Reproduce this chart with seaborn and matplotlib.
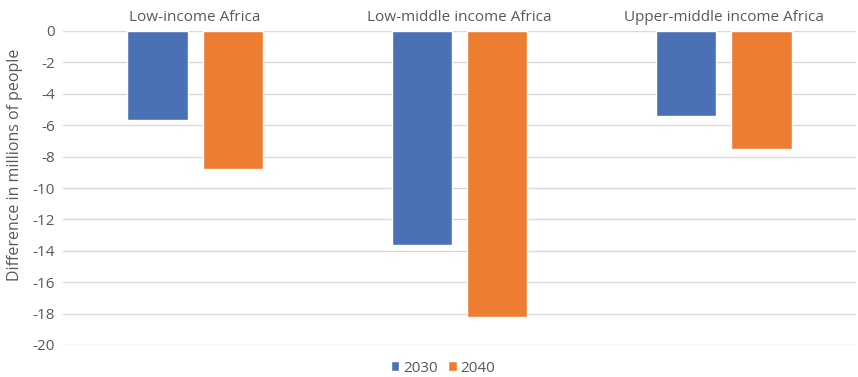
import matplotlib
matplotlib.use("Agg")
import matplotlib.pyplot as plt
import seaborn as sns
import pandas as pd

categories = ["Low-income Africa", "Low-middle income Africa", "Upper-middle income Africa"]
years = ["2030", "2040"]
values_2030 = [-5.7, -13.6, -5.4]
values_2040 = [-8.8, -18.2, -7.5]
yticks = list(range(0, -21, -2))

df = pd.DataFrame({
    "category": categories * 2,
    "year": [years[0]] * 3 + [years[1]] * 3,
    "value": values_2030 + values_2040,
})

sns.set_theme(style="white")
plt.rcParams["font.family"] = ["Open Sans", "DejaVu Sans"]
txt = "#595959"

fig = plt.figure(figsize=(8.58, 3.77), dpi=100)
ax = fig.add_axes([63 / 858, 1 - 345 / 377, 793 / 858, 314 / 377])

sns.barplot(data=df, x="category", y="value", hue="year", order=categories,
            hue_order=years, palette=["#4A70B5", "#ED7D31"], width=0.57, gap=0.2,
            ax=ax, legend=True, errorbar=None, saturation=1)

ax.set_ylim(-20, 0)
ax.set_xlim(-0.5, 2.5)
ax.set_yticks(yticks)
ax.set_yticklabels([str(v) for v in yticks])
ax.yaxis.grid(True, color="#d9d9d9", linewidth=1)
ax.set_axisbelow(True)
for s in ax.spines.values():
    s.set_visible(False)
ax.xaxis.tick_top()
ax.tick_params(axis="x", length=0, pad=4, labelsize=11, colors=txt)
ax.tick_params(axis="y", length=0, pad=6, labelsize=11, colors=txt)
ax.set_xlabel("")
ax.set_ylabel("Difference in millions of people", fontsize=11.5, color=txt)
ax.yaxis.set_label_coords(-40 / 793, (345 - 165) / 314)

handles, labels = ax.get_legend_handles_labels()
ax.get_legend().remove()
leg = fig.legend(handles, labels, loc="center", bbox_to_anchor=(443 / 858, 1 - 368 / 377),
                 ncol=2, frameon=False, fontsize=11, handlelength=0.55, handleheight=0.55,
                 handletextpad=0.25, columnspacing=0.7, borderaxespad=0)
for t in leg.get_texts():
    t.set_color(txt)

fig.savefig("out.png", dpi=100)
